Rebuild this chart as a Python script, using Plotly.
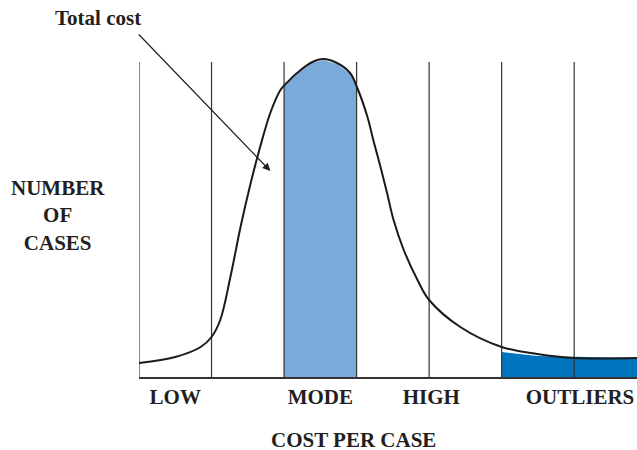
import plotly.graph_objects as go

# Curve: total cost distribution (x in band units, y in case counts)
curve_x = [0.0, 0.5, 0.85, 1.0, 1.12, 1.26, 1.40, 1.54, 1.67, 1.81, 1.95, 2.05, 2.18, 2.39, 2.54, 2.73, 2.91, 3.01, 3.15, 3.23, 3.33, 3.42, 3.51, 3.65, 3.84, 4.0, 4.43, 5.0, 5.49, 6.0, 6.87]
curve_y = [14, 20, 30, 40, 57, 100, 150, 194, 230, 264, 287, 295, 304, 315, 318, 314, 304, 289, 260, 237, 210, 184, 157, 127, 97, 77, 50, 30, 23, 19, 19]

# Shaded "mode" band
mode_x = [2.0, 2.18, 2.39, 2.54, 2.73, 2.91, 3.0]
mode_y = [290, 303, 314, 317, 313, 303, 291]

# Shaded "outliers" band
out_x = [5.0, 5.49, 6.0, 6.87]
out_y = [25, 21, 20, 19]

divider_x = [0, 1, 2, 3, 4, 5, 6]
divider_top = 315

tick_vals = [0.5, 2.5, 4.03, 6.08]
tick_text = ["LOW", "MODE", "HIGH", "OUTLIERS"]

FONT = "Liberation Serif"
FS = 21
W, H = 637, 450
L, R, T, B = 138.5, 0, 57, 450 - 377
PW, PH = W - L - R, H - T - B


def px(xp):
    return (xp - L) / PW


def py(yp):
    return (H - B - yp) / PH


fig = go.Figure()

fig.add_trace(go.Scatter(
    x=[mode_x[0]] + mode_x + [mode_x[-1]],
    y=[0] + mode_y + [0],
    fill="toself", fillcolor="#7aaad9", mode="lines",
    line=dict(color="#7aaad9", width=0), hoverinfo="skip", showlegend=False))

fig.add_trace(go.Scatter(
    x=[out_x[0]] + out_x + [out_x[-1]],
    y=[0] + out_y + [0],
    fill="toself", fillcolor="#0074bd", mode="lines",
    line=dict(color="#0074bd", width=0), hoverinfo="skip", showlegend=False))

for xv in divider_x:
    fig.add_trace(go.Scatter(
        x=[xv, xv], y=[0, divider_top], mode="lines",
        line=dict(color="#333333", width=1.2), hoverinfo="skip", showlegend=False))

fig.add_trace(go.Scatter(
    x=curve_x, y=curve_y, mode="lines", line_shape="spline",
    line=dict(color="#1a1a1a", width=2), hoverinfo="skip", showlegend=False))

fig.update_layout(
    width=W, height=H,
    margin=dict(l=L, r=R, t=T, b=B),
    plot_bgcolor="white", paper_bgcolor="white",
    font=dict(family=FONT, size=FS, color="#231f20"),
    xaxis=dict(range=[0, 6.866], showgrid=False, zeroline=False,
               showline=True, linecolor="#333333", linewidth=1.5,
               tickvals=tick_vals, ticktext=["<b>%s</b>" % s for s in tick_text], ticks="",
               tickfont=dict(family=FONT, size=FS, color="#231f20"),
               fixedrange=True),
    yaxis=dict(range=[0, 320], showgrid=False, zeroline=False,
               showline=False, showticklabels=False, fixedrange=True),
    annotations=[
        dict(text="<b>COST PER CASE</b>", x=px(353), y=py(440), xref="paper", yref="paper",
             showarrow=False, xanchor="center", yanchor="middle"),
        dict(text="<b>NUMBER</b><br><b>OF</b><br><b>CASES</b>", x=px(57), y=py(215),
             xref="paper", yref="paper", showarrow=False, xanchor="center", yanchor="middle"),
        dict(text="<b>Total cost</b>", x=px(97), y=py(18), xref="paper", yref="paper",
             showarrow=False, xanchor="center", yanchor="middle"),
        dict(text="", x=px(270), y=py(171), xref="paper", yref="paper",
             axref="pixel", ayref="pixel", ax=137 - 270, ay=33 - 171,
             showarrow=True, arrowhead=2, arrowsize=1.3, arrowwidth=1.2,
             arrowcolor="#231f20"),
    ],
)

fig.write_html(
    "out.html",
    config={"displayModeBar": False},
    post_script="document.body.style.margin='0';document.body.style.overflow='hidden';",
)
